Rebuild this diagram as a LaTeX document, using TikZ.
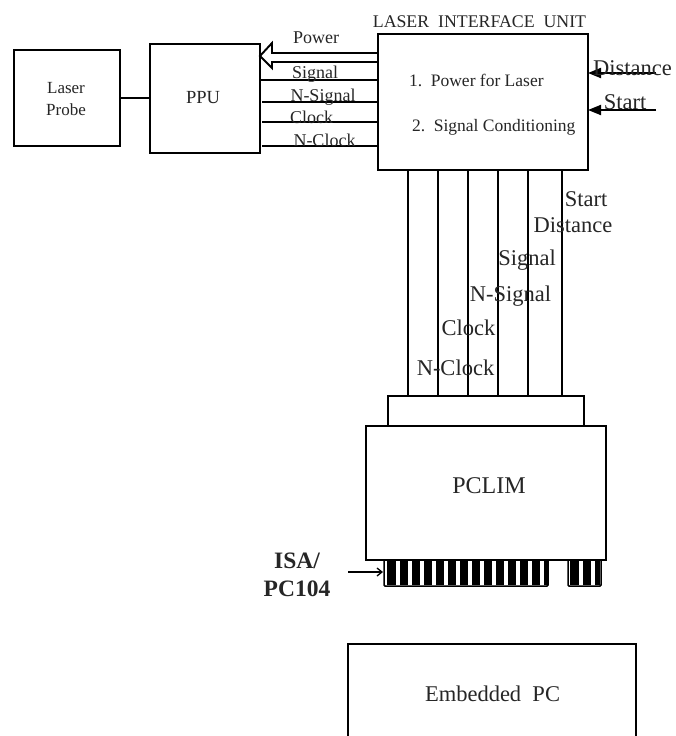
\documentclass[tikz,border=0pt]{standalone}
\usepackage{fontspec}
\setmainfont{Liberation Serif}
\usetikzlibrary{arrows.meta}
\newcommand{\fsz}[1]{\fontsize{#1}{#1}\selectfont}
\tikzset{
  x=1pt,y=-1pt,
  box/.style={draw=black,line width=1.9pt,inner sep=0pt,outer sep=0pt,fill=white,anchor=north west},
  wire/.style={draw=black,line width=1.9pt},
  lbl/.style={inner sep=0pt,outer sep=0pt,text=black!85,align=center,font=\fsz{#1}},
  lbl/.default=18,
  solidhead/.style={-{Triangle[length=13pt,width=10pt]}},
}
\newcommand{\boxat}[6]{\node[box,minimum width=#4pt,minimum height=#5pt] (#1) at (#2,#3) {};}
\begin{document}
\begin{tikzpicture}
\useasboundingbox[fill=white] (0,0) rectangle (675,736);
% boxes
\boxat{probe}{14}{50}{106}{96}{}
\boxat{ppu}{150}{44}{110}{109}{}
\boxat{liu}{378}{34}{210}{136}{}
\boxat{adapter}{388}{396}{196}{30}{}
\boxat{pclim}{366}{426}{240}{134}{}
% embedded PC, cut by the lower edge
\coordinate (pcsw) at (348,740);
\coordinate (pcse) at (636,740);
\draw[wire] (pcsw) -- (348,644) -- (636,644) -- (pcse);
\node[lbl=22.5] (embtext) at (492.5,694) {Embedded\ \ PC};
% probe link
\draw[wire] (probe.east |- 0,98) -- (ppu.west |- 0,98);
% hollow power arrow
\draw[wire,line join=miter] (liu.west |- 0,53) -- (272,53) -- (272,43) -- (ppu.east |- 0,56) -- (272,68) -- (272,62) -- (liu.west |- 0,62);
% signal lines
\draw[wire] (liu.west |- 0,80) -- (ppu.east |- 0,80);
\draw[wire] (liu.west |- 0,102) -- (262,102);
\draw[wire] (liu.west |- 0,122) -- (262,122);
\draw[wire] (liu.west |- 0,146) -- (262,146);
% inputs
\coordinate (distfree) at (656,73);
\coordinate (startfree) at (656,110);
\draw[wire,solidhead] (distfree) -- (liu.east |- distfree);
\draw[wire,solidhead] (startfree) -- (liu.east |- startfree);
% vertical bundle
\foreach \xx in {408,438,468,498,528,562}
  \draw[wire] (\xx,170) -- (\xx,396);
% connectors
\fill[black] (384,560) rectangle (548,584.5);
\foreach \xx in {395.5,407.5,419.5,431.5,443.5,455.5,467.5,479.5,491.5,503.5,515.5,527.5,539.5}
  \fill[white] (\xx,561) rectangle ++(4,23.5);
\fill[white] (384.5,561) rectangle (386.5,584.5);
\draw[black,line width=1.5pt,rounded corners=1pt] (384,560) -- (384,586) -- (548,586) -- (548,560);
\fill[black] (570,560) rectangle (600,584.5);
\fill[white] (579,561) rectangle (583,584.5);
\fill[white] (591,561) rectangle (595,584.5);
\draw[black,line width=1.5pt,rounded corners=1pt] (568,560) -- (568,586) -- (601,586) -- (601,560);
\draw[wire] (366,560) -- (606,560);
\coordinate (isafree) at (348,572);
\coordinate (isatip) at (383,572);
\draw[black,line width=1.3pt,-{Straight Barb[length=5pt,width=8pt]}] (isafree) -- (isatip);
% labels
\node[lbl=17] (probetext) at (66,99.5) {Laser\\[5pt]Probe};
\node[lbl=18.5] (pputext) at (203,98) {PPU};
\node[lbl=17.8] (liutitle) at (479.5,22) {LASER\ \ INTERFACE\ \ UNIT};
\node[lbl=17.5,anchor=west] (item1) at (409,80) {1.\ \ Power for Laser};
\node[lbl=17.5,anchor=west] (item2) at (412,127) {2.\ \ Signal Conditioning};
\node[lbl=18] (lpower) at (316,38) {Power};
\node[lbl=18] (lsignal) at (315,74) {Signal};
\node[lbl=18] (lnsignal) at (323,97) {N-Signal};
\node[lbl=18] (lclock) at (311.5,117) {Clock};
\node[lbl=18] (lnclock) at (324.5,140) {N-Clock};
\node[lbl=22.5] (ldist) at (632.5,68.5) {Distance};
\node[lbl=22.5] (lstart) at (625,102.5) {Start};
\node[lbl=22.5] (vstart) at (586,199) {Start};
\node[lbl=22.5] (vdist) at (573,225) {Distance};
\node[lbl=22.5] (vsignal) at (527,260) {Signal};
\node[lbl=22.5] (vnsignal) at (510.5,296) {N-Signal};
\node[lbl=22.5] (vclock) at (468.5,328) {Clock};
\node[lbl=22.5] (vnclock) at (455.5,368) {N-Clock};
\node[lbl=24] (pclimtext) at (489,486) {PCLIM};
\node[lbl=23,font=\fsz{23.5}\bfseries] (isatext) at (297,575) {ISA/\\[4pt]PC104};
\end{tikzpicture}
\end{document}
